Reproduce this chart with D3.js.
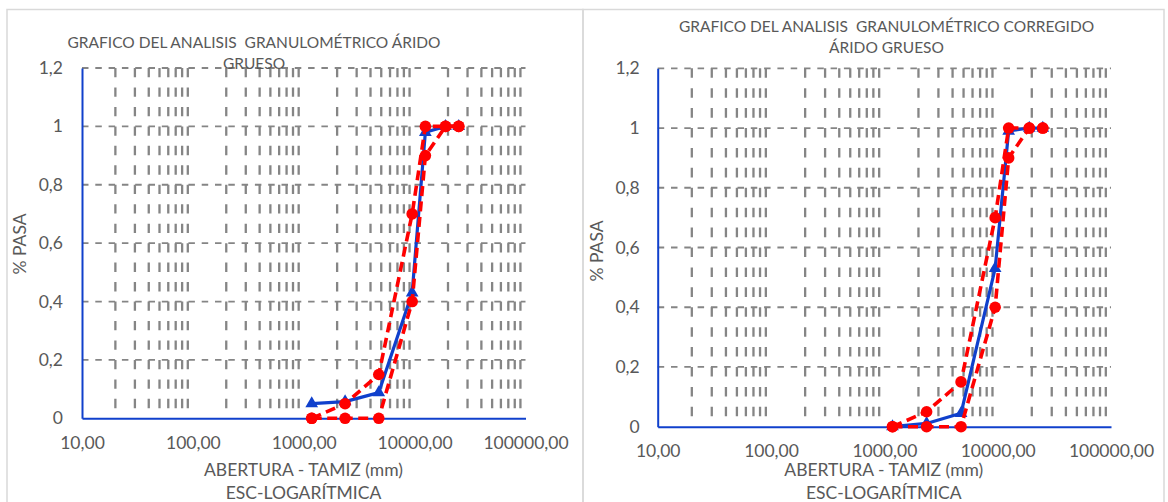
<!DOCTYPE html>
<html>
<head>
<meta charset="utf-8">
<script src="https://cdn.jsdelivr.net/npm/d3@7"></script>
<style>
  html, body { margin: 0; padding: 0; background: #fff; }
  svg text { font-family: Lato, "Open Sans", sans-serif; fill: #595959; white-space: pre; }
</style>
</head>
<body>
<svg id="chart" width="1168" height="502"></svg>
<script>
  'use strict';

  // Sieve openings (x, log scale) and fraction passing for each curve.
  var sieves = [1180, 2360, 4750, 9500, 12500, 19000, 25000];
  var upperLimit = [0, 0.05, 0.15, 0.70, 1, 1, 1];
  var lowerLimit = [0, 0, 0, 0.40, 0.90, 1, 1];
  var passingOriginal = [0.05, 0.057, 0.088, 0.43, 0.98, 1, 1];
  var passingCorrected = [0, 0.011, 0.045, 0.53, 0.99, 1, 1];

  var xTicks = [10, 100, 1000, 10000, 100000];
  var yTicks = [0, 0.2, 0.4, 0.6, 0.8, 1, 1.2];

  var titleLeft = ["GRAFICO DEL ANALISIS  GRANULOMÉTRICO ÁRIDO", "GRUESO"];
  var titleRight = ["GRAFICO DEL ANALISIS  GRANULOMÉTRICO CORREGIDO", "ÁRIDO GRUESO"];
  var xTitle = ["ABERTURA - TAMIZ (mm)", "ESC-LOGARÍTMICA"];
  var yTitle = "% PASA";

  var locale = d3.formatLocale({ decimal: ",", thousands: ".", grouping: [3], currency: ["", ""] });
  var fmtX = locale.format(".2f");
  var fmtY = locale.format("~g");

  var blue = "#1040cc", red = "#ff0000", grid = "#858585";
  var fs = 17.5;

  var svg = d3.select("#chart");

  // Layout of each panel (pixel positions, not data).
  var panels = [
    { frame: [7, 9.5, 576, 500], left: 82, right: 525.5, top: 68, bottom: 418.3, pad: 19,
      title: titleLeft, titleX: 254, titleY: [42.5, 63.5],
      xt: 303.5, xtY: [470, 492.7], ytX: 20, ytY: 244, passing: passingOriginal },
    { frame: [583, 9.5, 581, 500], left: 657.7, right: 1111, top: 68.3, bottom: 426.7, pad: 18,
      title: titleRight, titleX: 886.5, titleY: [26.7, 47.5],
      xt: 883.8, xtY: [470, 492.7], ytX: 597, ytY: 251, passing: passingCorrected }
  ];

  panels.forEach(function(p) { drawPanel(p); });

  function drawPanel(p) {
    var g = svg.append("g");

    g.append("rect")
      .attr("x", p.frame[0]).attr("y", p.frame[1])
      .attr("width", p.frame[2]).attr("height", p.frame[3])
      .attr("fill", "none").attr("stroke", "#d9d9d9").attr("stroke-width", 1.5);

    var x = d3.scaleLog().domain([10, 100000]).range([p.left, p.right]);
    var y = d3.scaleLinear().domain([0, 1.2]).range([p.bottom, p.top]);

    // minor log gridlines (2..9 of each decade)
    var minor = x.ticks().filter(function(v) {
      return Math.abs(Math.log10(v) - Math.round(Math.log10(v))) > 1e-9;
    });
    var dashV = (p.bottom - p.top) / 18;
    g.append("g").selectAll("line").data(minor).join("line")
      .attr("x1", x).attr("x2", x)
      .attr("y1", p.top).attr("y2", p.bottom)
      .attr("stroke", grid).attr("stroke-width", 2.3)
      .attr("stroke-dasharray", (dashV * 0.48) + "," + (dashV * 0.52));

    g.append("g").selectAll("line").data(yTicks.slice(1)).join("line")
      .attr("x1", p.left).attr("x2", p.right)
      .attr("y1", y).attr("y2", y)
      .attr("stroke", grid).attr("stroke-width", 1.8)
      .attr("stroke-dasharray", "6.5,6.8");

    // axes
    var ax = g.append("g")
      .attr("transform", "translate(0," + p.bottom + ")")
      .call(d3.axisBottom(x).tickValues(xTicks).tickFormat(fmtX).tickSize(0).tickSizeOuter(0).tickPadding(18));
    var ay = g.append("g")
      .attr("transform", "translate(" + p.left + ",0)")
      .call(d3.axisLeft(y).tickValues(yTicks).tickFormat(fmtY).tickSize(0).tickSizeOuter(0).tickPadding(p.pad));
    [ax, ay].forEach(function(a) {
      a.attr("font-family", null).attr("font-size", fs);
      a.select(".domain").attr("stroke", blue).attr("stroke-width", 2);
      a.selectAll("text").attr("fill", "#595959");
    });

    var line = d3.line()
      .x(function(d) { return x(d[0]); })
      .y(function(d) { return y(d[1]); });

    // measured curve
    var pts = d3.zip(sieves, p.passing);
    g.append("path").datum(pts)
      .attr("d", line).attr("fill", "none")
      .attr("stroke", blue).attr("stroke-width", 3.2).attr("stroke-linejoin", "round");
    g.append("g").selectAll("path").data(pts).join("path")
      .attr("transform", function(d) { return "translate(" + x(d[0]) + "," + y(d[1]) + ")"; })
      .attr("d", d3.symbol(d3.symbolTriangle, 70))
      .attr("fill", blue);

    // specification limits
    [upperLimit, lowerLimit].forEach(function(lim) {
      var lp = d3.zip(sieves, lim);
      g.append("path").datum(lp)
        .attr("d", line).attr("fill", "none")
        .attr("stroke", red).attr("stroke-width", 3.6)
        .attr("stroke-dasharray", "10,5.5");
      g.append("g").selectAll("circle").data(lp).join("circle")
        .attr("cx", function(d) { return x(d[0]); })
        .attr("cy", function(d) { return y(d[1]); })
        .attr("r", 5.8)
        .attr("fill", red);
    });

    // titles
    p.title.forEach(function(t, i) {
      g.append("text")
        .attr("x", p.titleX).attr("y", p.titleY[i])
        .attr("dy", "0.35em").attr("text-anchor", "middle")
        .attr("font-size", 15.5)
        .text(t);
    });

    xTitle.forEach(function(t, i) {
      g.append("text")
        .attr("x", p.xt).attr("y", p.xtY[i])
        .attr("dy", "0.35em").attr("text-anchor", "middle")
        .attr("font-size", fs)
        .text(t);
    });

    g.append("text")
      .attr("transform", "translate(" + p.ytX + "," + p.ytY + ") rotate(-90)")
      .attr("dy", "0.35em").attr("text-anchor", "middle")
      .attr("font-size", fs)
      .text(yTitle);
  }
</script>
</body>
</html>
